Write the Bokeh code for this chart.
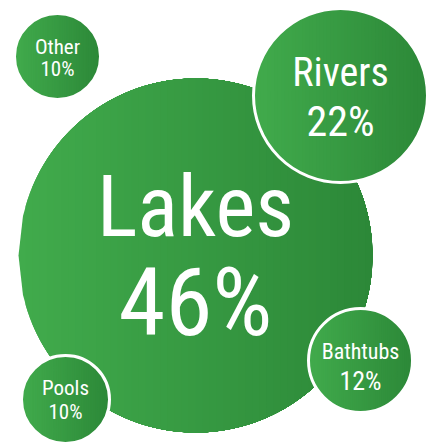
import numpy as np
from bokeh.plotting import figure
from bokeh.models import Range1d, ColumnDataSource
from bokeh.core.properties import value
from bokeh.embed import file_html
from bokeh.resources import INLINE

# ---- data ----
categories = ["Lakes", "Rivers", "Bathtubs", "Other", "Pools"]
shares = [46, 22, 12, 10, 10]

# ---- layout (pixel space, y downwards) ----
cx = [195, 340, 360, 57, 65]
cy = [255, 95, 360, 56, 399]
rad = [177, 87, 52, 43, 44]
name_dy = [-20, -10, -2, -3, -5]     # baseline offsets from centre
pct_dy = [78, 40, 29, 19, 19]
name_size = [85, 40, 22, 21, 21]
pct_size = [95, 42, 26, 21, 21]
BASE_FIX = 0.33                       # renderer baseline correction (fraction of size)

W, H = 427, 442
FONT = "'Roboto Condensed', Lato"

p = figure(width=W, height=H, output_backend="svg", toolbar_location=None,
           x_range=Range1d(0, W), y_range=Range1d(H, 0), min_border=0)
p.axis.visible = False
p.grid.visible = False
p.outline_line_color = None
p.background_fill_color = "white"
p.border_fill_color = "white"

light = np.array([0x41, 0xab, 0x4c])
dark = np.array([0x2c, 0x88, 0x38])

def hexc(c):
    return "#%02x%02x%02x" % tuple(int(round(v)) for v in c)

N = 50
for i, cat in enumerate(categories):
    x0, y0, r = cx[i], cy[i], rad[i]
    edges = np.linspace(x0 - r, x0 + r, N + 1)
    xs_list, ys_list, cols = [], [], []
    for k in range(N):
        a = edges[k]
        xx = np.linspace(a, x0 + r, 80)
        h = np.sqrt(np.clip(r * r - (xx - x0) ** 2, 0, None))
        xs_list.append(list(xx) + list(xx[::-1]))
        ys_list.append(list(y0 - h) + list((y0 + h)[::-1]))
        t = (k + 0.5) / N
        cols.append(hexc(light + (dark - light) * t))
    src = ColumnDataSource(dict(xs=xs_list, ys=ys_list, c=cols))
    p.patches("xs", "ys", source=src, fill_color="c", line_color=None)
    if i > 0:
        p.circle(x=[x0], y=[y0], radius=r, fill_alpha=0, line_color="white", line_width=3)

for i, cat in enumerate(categories):
    p.text(x=[cx[i]], y=[cy[i] + name_dy[i] - BASE_FIX * name_size[i]], text=[cat],
           text_align="center", text_baseline="alphabetic", text_color="white",
           text_font=value(FONT), text_font_size=f"{name_size[i]}px")
    p.text(x=[cx[i]], y=[cy[i] + pct_dy[i] - BASE_FIX * pct_size[i]], text=[f"{shares[i]}%"],
           text_align="center", text_baseline="alphabetic", text_color="white",
           text_font=value(FONT), text_font_size=f"{pct_size[i]}px")

open("out.html", "w").write(file_html(p, INLINE))
